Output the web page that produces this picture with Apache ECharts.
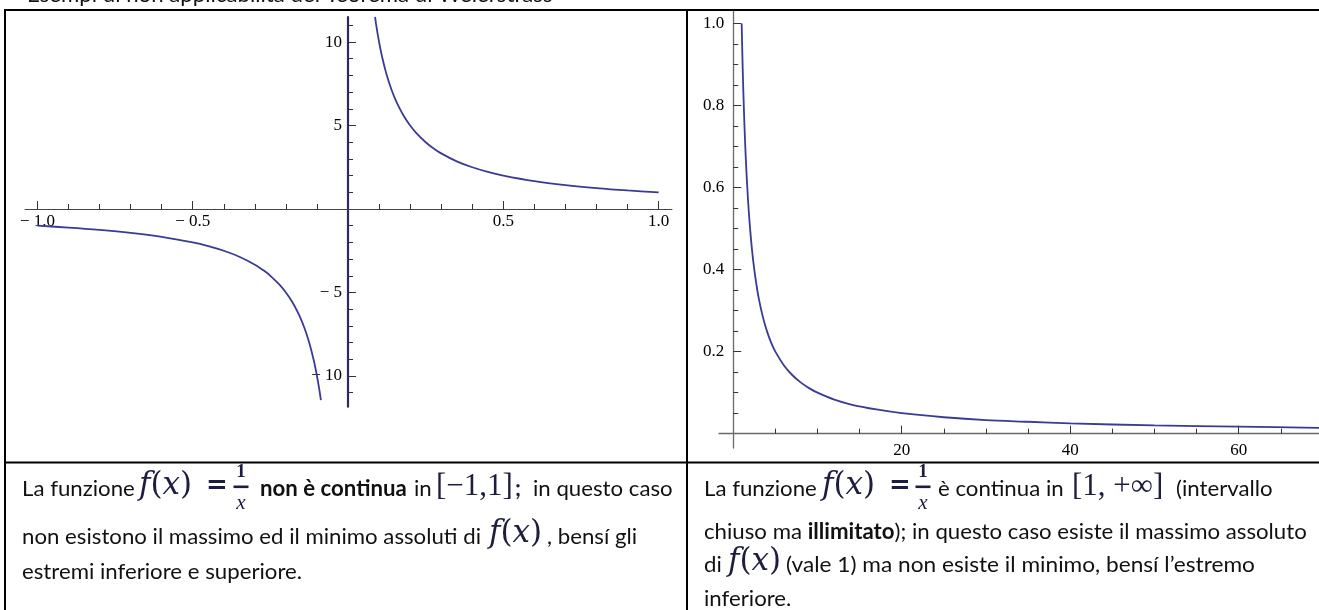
<!DOCTYPE html>
<html><head><meta charset="utf-8">
<script src="https://cdn.jsdelivr.net/npm/echarts@6/dist/echarts.min.js"></script>
<style>html,body{margin:0;padding:0;background:#fff}#c{width:1319px;height:610px}</style>
</head><body><div id="c"></div>
<script>
// ---- data: f(x) = 1/x ----
const leftNegX = [-1, -0.9, -0.8, -0.7, -0.6, -0.5, -0.45, -0.4, -0.35, -0.3, -0.27, -0.25, -0.22, -0.2, -0.18, -0.16, -0.15, -0.14, -0.13, -0.12, -0.11, -0.105, -0.1, -0.095, -0.091, -0.0874];
const leftNegY = [-1, -1.111, -1.25, -1.429, -1.667, -2, -2.222, -2.5, -2.857, -3.333, -3.704, -4, -4.545, -5, -5.556, -6.25, -6.667, -7.143, -7.692, -8.333, -9.091, -9.524, -10, -10.526, -10.989, -11.44];
const leftPosX = [0.087, 0.09, 0.095, 0.1, 0.105, 0.11, 0.12, 0.13, 0.14, 0.15, 0.16, 0.18, 0.2, 0.22, 0.25, 0.27, 0.3, 0.35, 0.4, 0.45, 0.5, 0.6, 0.7, 0.8, 0.9, 1];
const leftPosY = [11.5, 11.111, 10.526, 10, 9.524, 9.091, 8.333, 7.692, 7.143, 6.667, 6.25, 5.556, 5, 4.545, 4, 3.704, 3.333, 2.857, 2.5, 2.222, 2, 1.667, 1.429, 1.25, 1.111, 1];
const rightX = [1, 1.1, 1.2, 1.35, 1.5, 1.75, 2, 2.25, 2.5, 2.75, 3, 3.5, 4, 4.5, 5, 6, 7, 8, 9, 10, 12, 14, 17, 20, 25, 30, 35, 40, 50, 60, 70];
const rightY = [1, 0.909, 0.833, 0.741, 0.667, 0.571, 0.5, 0.444, 0.4, 0.364, 0.333, 0.286, 0.25, 0.222, 0.2, 0.167, 0.143, 0.125, 0.111, 0.1, 0.083, 0.071, 0.059, 0.05, 0.04, 0.033, 0.029, 0.025, 0.02, 0.017, 0.014];
// ---- ticks ----
const leftXLabels = [-1, -0.5, 0.5, 1];
const leftYLabels = [-10, -5, 5, 10];
const rightXLabels = [20, 40, 60];
const rightYLabels = [0.2, 0.4, 0.6, 0.8, 1.0];
const leftXMinor = [-0.9, -0.8, -0.7, -0.6, -0.4, -0.3, -0.2, -0.1, 0.1, 0.2, 0.3, 0.4, 0.6, 0.7, 0.8, 0.9];
const leftYMinor = [-11, -9, -8, -7, -6, -4, -3, -2, -1, 1, 2, 3, 4, 6, 7, 8, 9, 11];
const rightXMinor = [5, 10, 15, 25, 30, 35, 45, 50, 55, 65];
const rightYMinor = [0.05, 0.1, 0.15, 0.25, 0.3, 0.35, 0.45, 0.5, 0.55, 0.65, 0.7, 0.75, 0.85, 0.9, 0.95];

const zip = (a, b) => a.map((v, i) => [v, b[i]]);
const SERIF = 'Liberation Serif';
const BODY = 'Lato';
const CURVE = '#3a3a97';
const fmt = d => v => (v < 0 ? '\u2212 ' + (-v).toFixed(d) : v.toFixed(d));

const grids = [
  {left: 25, top: 17, width: 647, height: 389.7, xr: [-1.04, 1.043], yr: [-11.84, 11.5]},
  {left: 719, top: 10, width: 600, height: 438, xr: [-1.69, 69.53], yr: [-0.035, 1.033]}
];
// offset that puts each axis on the other axis' zero
const xOff = g => -(0 - g.yr[0]) / (g.yr[1] - g.yr[0]) * g.height;
const yOff = g => -(0 - g.xr[0]) / (g.xr[1] - g.xr[0]) * g.width;

function axisPair(dim, gi, labels, minor, d, col, w, margin) {
  const g = grids[gi];
  const r = dim === 'x' ? g.xr : g.yr;
  const off = dim === 'x' ? xOff(g) : yOff(g);
  const base = {type: 'value', gridIndex: gi, min: r[0], max: r[1], position: dim === 'x' ? 'bottom' : 'left', offset: off, splitLine: {show: false}};
  const major = Object.assign({}, base, {
    axisLine: {show: true, onZero: false, lineStyle: {color: col, width: w}},
    axisTick: {show: true, inside: true, length: 8, customValues: labels, lineStyle: {color: '#333', width: 1}},
    axisLabel: {show: true, customValues: labels, formatter: fmt(d), margin: margin, fontFamily: SERIF, fontSize: 17, color: '#000'}
  });
  const mnr = Object.assign({}, base, {
    axisLine: {show: false, onZero: false},
    axisTick: {show: true, inside: true, length: 5, customValues: minor, lineStyle: {color: '#333', width: 1}},
    axisLabel: {show: false}
  });
  return [major, mnr];
}

const xAxes = [
  ...axisPair('x', 0, leftXLabels, leftXMinor, 1, '#444', 1, 4),
  ...axisPair('x', 1, rightXLabels, rightXMinor, 0, '#6a6a6a', 1.3, 8)
];
const yAxes = [
  ...axisPair('y', 0, leftYLabels, leftYMinor, 0, '#2b2b5c', 2.2, 6),
  ...axisPair('y', 1, rightYLabels, rightYMinor, 1, '#6a6a6a', 1.3, 9)
];

// ---- text helpers ----
const TXT = '#111';
const MATH = '#1d1d3f';
const SX = 1.01;
function kOf(f) { return f === BODY ? 0.387 : (f === SERIF ? 0.3375 : 0.346); }
function T(text, x, base, o) {
  o = o || {};
  const size = o.size || 22, fam = o.family || BODY;
  return {type: 'text', x: x, y: base - kOf(fam) * size, scaleX: o.sx || (fam === BODY ? SX : 1), z: 10, silent: true,
    style: {text: text, fontFamily: fam, fontSize: size, fontWeight: o.bold ? 'bold' : 'normal',
      fontStyle: o.italic ? 'italic' : 'normal', fill: o.color || TXT, align: o.align || 'left', verticalAlign: 'middle', rich: o.rich}};
}
function FX(x, base) {
  return {type: 'text', x: x, y: base - 0.346 * 31, z: 10, silent: true,
    style: {text: '{i|f}{n|(}{i|x}{n|)}', fill: MATH, verticalAlign: 'middle',
      rich: {i: {fontFamily: 'DejaVu Serif', fontStyle: 'italic', fontSize: 31, fill: MATH},
             n: {fontFamily: 'DejaVu Serif', fontSize: 31, fill: MATH}}}};
}
function EQ(x) { return T('=', x, 486.5 + 0.346 * 26, {family: 'DejaVu Sans', size: 26, bold: true, color: MATH}); }
function FRAC(cx) {
  return [
    {type: 'text', x: cx, y: 472.5, z: 10, silent: true, style: {text: '1', fontFamily: SERIF, fontWeight: 'bold', fontSize: 19, fill: MATH, align: 'center', verticalAlign: 'middle'}},
    {type: 'rect', shape: {x: cx - 7.5, y: 485.5, width: 15, height: 2.6}, style: {fill: MATH}, z: 10, silent: true},
    {type: 'text', x: cx, y: 503, z: 10, silent: true, style: {text: 'x', fontFamily: SERIF, fontStyle: 'italic', fontSize: 21, fill: MATH, align: 'center', verticalAlign: 'middle'}}
  ];
}
const L = (x1, y1, x2, y2) => ({type: 'line', shape: {x1, y1, x2, y2}, style: {stroke: '#000', lineWidth: 2}, z: 20, silent: true});

const graphics = [
  L(4, 10, 1319, 10), L(5, 10, 5, 610), L(687, 10, 687, 610), L(4, 462.5, 1319, 462.5),
  T('Esempi di non applicabilità del Teorema di Weierstrass', 27, 3),
  // left cell
  T('La funzione', 22, 497), FX(139, 497), EQ(206), ...FRAC(241),
  T('non è continua', 260, 497, {bold: true}), T('in', 414, 497),
  T('[\u22121,1]', 436, 497, {family: SERIF, size: 31, color: MATH}), T(';', 515, 497, {bold: true, color: MATH}),
  T('in questo caso', 533, 497),
  T('non esistono il massimo ed il minimo assoluti di', 22, 545), FX(489, 545), T(', bensí gli', 547, 545),
  T('estremi inferiore e superiore.', 22, 580),
  // right cell
  T('La funzione', 704, 497), FX(822, 497), EQ(889), ...FRAC(923),
  T('è continua in', 938, 497),
  T('[1, +\u221e]', 1072, 497, {family: SERIF, size: 31, color: MATH}),
  T('(intervallo', 1176, 497),
  T('{n|chiuso ma }{b|illimitato}{n|); in questo caso esiste il massimo assoluto}', 704, 540,
    {rich: {n: {fontFamily: BODY, fontSize: 22, fill: TXT}, b: {fontFamily: BODY, fontSize: 22, fontWeight: 'bold', fill: TXT}}}),
  T('di', 704, 573), FX(728, 573), T('(vale 1) ma non esiste il minimo, bensí l\u2019estremo', 786, 573, {sx: 1.03}),
  T('inferiore.', 704, 607)
];

const chart = echarts.init(document.getElementById('c'), null, {renderer: 'canvas'});
chart.setOption({
  animation: false,
  backgroundColor: '#fff',
  grid: grids.map(g => ({left: g.left, top: g.top, width: g.width, height: g.height, outerBoundsMode: 'none', containLabel: false})),
  xAxis: xAxes,
  yAxis: yAxes,
  series: [
    {type: 'line', xAxisIndex: 0, yAxisIndex: 0, data: zip(leftNegX, leftNegY), showSymbol: false, smooth: 0.3, lineStyle: {color: CURVE, width: 1.8}, itemStyle: {color: CURVE}},
    {type: 'line', xAxisIndex: 0, yAxisIndex: 0, data: zip(leftPosX, leftPosY), showSymbol: false, smooth: 0.3, lineStyle: {color: CURVE, width: 1.8}, itemStyle: {color: CURVE}},
    {type: 'line', xAxisIndex: 2, yAxisIndex: 2, data: zip(rightX, rightY), showSymbol: false, smooth: 0.3, lineStyle: {color: CURVE, width: 1.8}, itemStyle: {color: CURVE}}
  ],
  graphic: graphics
});
</script></body></html>
